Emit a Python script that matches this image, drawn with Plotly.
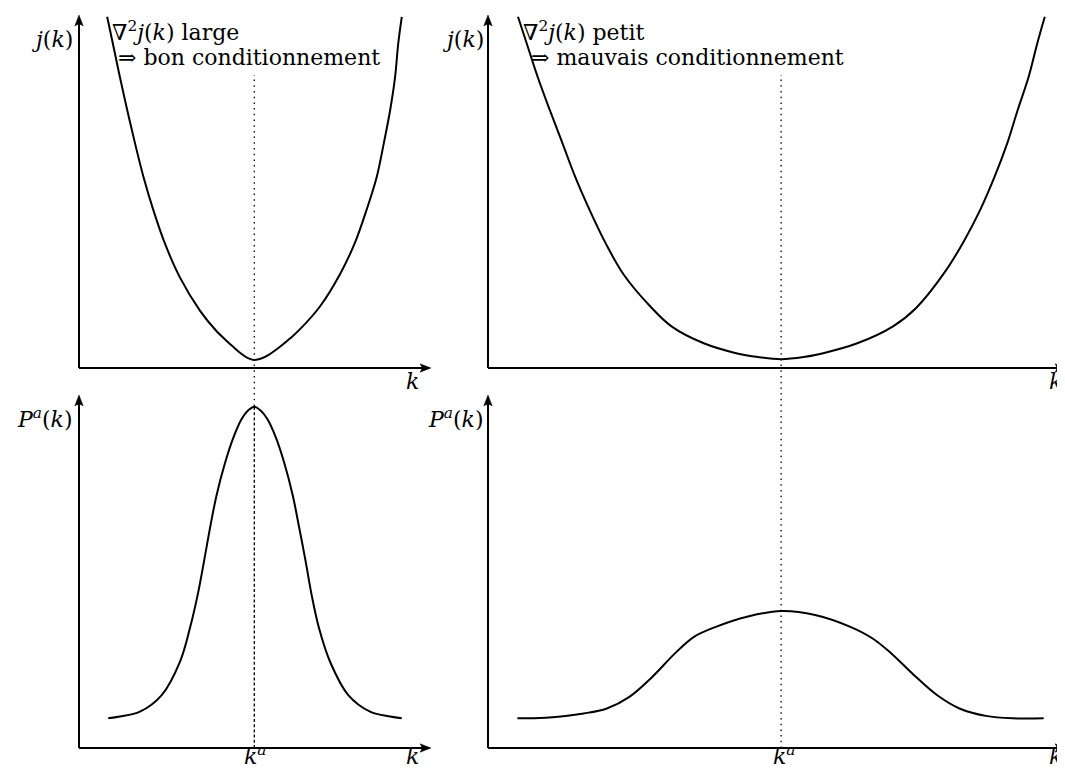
import plotly.graph_objects as go

# ---------------- data ----------------
# top-left: j(k), large curvature
k_tl = [0.80, 0.96, 1.16, 1.37, 1.59, 1.83, 2.11, 2.44, 2.87, 3.44, 3.91, 4.15, 4.38, 4.60, 4.80, 4.97,
        5.16, 5.40, 5.71, 6.00, 6.28, 6.85, 7.41, 7.84, 8.17, 8.46, 8.66, 8.84, 8.98, 9.07, 9.17]
j_tl = [9.95, 9.20, 8.25, 7.31, 6.37, 5.42, 4.48, 3.53, 2.56, 1.62, 1.04, 0.81, 0.60, 0.41, 0.28, 0.23,
        0.26, 0.38, 0.60, 0.84, 1.10, 1.75, 2.65, 3.55, 4.48, 5.42, 6.37, 7.31, 8.25, 9.20, 9.95]

# top-right: j(k), small curvature
k_tr = [0.52, 0.67, 0.86, 1.07, 1.29, 1.51, 1.76, 2.04, 2.35, 2.81, 3.18, 3.74, 4.30, 4.68, 5.08,
        5.47, 5.81, 6.40, 7.02, 7.42, 7.91, 8.25, 8.53, 8.78, 9.00, 9.18, 9.37, 9.52, 9.65]
j_tr = [9.95, 9.20, 8.25, 7.31, 6.37, 5.42, 4.48, 3.53, 2.65, 1.75, 1.18, 0.70, 0.42, 0.31, 0.25,
        0.31, 0.42, 0.70, 1.18, 1.70, 2.70, 3.60, 4.48, 5.42, 6.37, 7.31, 8.25, 9.20, 9.95]

# bottom-left: P^a(k), narrow
k_bl = [0.83, 1.16, 1.73, 2.35, 2.87, 3.15, 3.37, 3.55, 3.72, 3.91, 4.15, 4.38, 4.62, 4.80, 4.98,
        5.16, 5.35, 5.60, 5.83, 6.07, 6.26, 6.44, 6.61, 6.82, 7.13, 7.65, 8.27, 8.84, 9.17]
p_bl = [0.84, 0.89, 1.03, 1.50, 2.45, 3.39, 4.33, 5.28, 6.22, 7.17, 8.08, 8.78, 9.32, 9.56, 9.67,
        9.56, 9.32, 8.78, 8.08, 7.17, 6.22, 5.28, 4.33, 3.39, 2.45, 1.50, 1.03, 0.89, 0.84]

# bottom-right: P^a(k), wide
k_br = [0.51, 1.00, 1.66, 2.06, 2.45, 2.85, 3.24, 3.57, 3.96, 4.49, 5.08, 5.67, 6.27, 6.66,
        6.99, 7.38, 7.78, 8.17, 8.63, 9.09, 9.63]
p_br = [0.84, 0.86, 0.98, 1.12, 1.45, 2.02, 2.68, 3.15, 3.44, 3.72, 3.88, 3.77, 3.44, 3.11,
        2.68, 2.07, 1.50, 1.12, 0.91, 0.84, 0.84]

# position of the optimum k^a in the left and right columns
k_a = [4.98, 5.08]

# ---------------- layout helpers ----------------
W, H = 1065, 769
OFF = 8  # the page body adds an 8px margin; positions below are in window pixels
FONT = "DejaVu Serif"
FS = 22


def px(x):
    return min(max((x - OFF) / W, 0), 1)


def py(y):
    return min(max(1 - (y - OFF) / H, 0), 1)


def P(x, y):
    return f"{(x - OFF) / W:.5f},{1 - (y - OFF) / H:.5f}"


fig = go.Figure()

xl = [px(79), px(431)]
xr = [px(488), px(1065)]
yt = [py(368), py(15)]
yb = [py(748), py(395)]

panels = [
    ("x", "y", k_tl, j_tl),
    ("x2", "y2", k_tr, j_tr),
    ("x3", "y3", k_bl, p_bl),
    ("x4", "y4", k_br, p_br),
]
for xa, ya, kk, vv in panels:
    fig.add_trace(go.Scatter(x=kk, y=vv, xaxis=xa, yaxis=ya, mode="lines",
                             line=dict(color="black", width=2, shape="spline", smoothing=1.0),
                             hoverinfo="skip", showlegend=False, cliponaxis=False))

ax_common = dict(visible=False, showgrid=False, zeroline=False, range=[0, 10], fixedrange=True)
fig.update_layout(
    width=W, height=H, margin=dict(l=0, r=0, t=0, b=0),
    font=dict(family=FONT, size=FS, color="black"),
    paper_bgcolor="white", plot_bgcolor="white", showlegend=False,
    xaxis=dict(domain=xl, anchor="y", **ax_common),
    yaxis=dict(domain=yt, anchor="x", **ax_common),
    xaxis2=dict(domain=xr, anchor="y2", **ax_common),
    yaxis2=dict(domain=yt, anchor="x2", **ax_common),
    xaxis3=dict(domain=xl, anchor="y3", **ax_common),
    yaxis3=dict(domain=yb, anchor="x3", **ax_common),
    xaxis4=dict(domain=xr, anchor="y4", **ax_common),
    yaxis4=dict(domain=yb, anchor="x4", **ax_common),
)

shapes = []
BLACK = "black"


def arrow_up(x0, y0):
    return dict(type="path", xref="paper", yref="paper",
                path=f"M{P(x0, y0)} L{P(x0 - 4.2, y0 + 11)} Q{P(x0, y0 + 7.5)} {P(x0 + 4.2, y0 + 11)} Z",
                fillcolor=BLACK, line=dict(color=BLACK, width=0.5))


def arrow_right(x0, y0):
    return dict(type="path", xref="paper", yref="paper",
                path=f"M{P(x0, y0)} L{P(x0 - 11, y0 - 4.2)} Q{P(x0 - 7.5, y0)} {P(x0 - 11, y0 + 4.2)} Z",
                fillcolor=BLACK, line=dict(color=BLACK, width=0.5))


frames = [(79, 368, 431, 15), (488, 368, 1066, 15), (79, 748, 431, 395), (488, 748, 1066, 395)]
for ox, oy, tx, ty in frames:
    shapes.append(dict(type="line", xref="paper", yref="paper", x0=px(ox), x1=px(tx - 5),
                       y0=py(oy), y1=py(oy), line=dict(color=BLACK, width=2)))
    shapes.append(dict(type="line", xref="paper", yref="paper", x0=px(ox), x1=px(ox),
                       y0=py(oy), y1=py(ty + 5), line=dict(color=BLACK, width=2)))
    shapes.append(arrow_right(tx, oy))
    shapes.append(arrow_up(ox, ty))

shapes += [
    dict(type="line", xref="x", yref="paper", x0=k_a[0], x1=k_a[0], y0=py(406), y1=py(75),
         line=dict(color=BLACK, width=1.3, dash="1.5px,4.2px")),
    dict(type="line", xref="x", yref="paper", x0=k_a[0], x1=k_a[0], y0=py(748), y1=py(406),
         line=dict(color=BLACK, width=1.3, dash="3px,2.2px")),
    dict(type="line", xref="x2", yref="paper", x0=k_a[1], x1=k_a[1], y0=py(748), y1=py(75),
         line=dict(color=BLACK, width=1.3, dash="1.5px,4.2px")),
]

annotations = []


def label(text, x, y, xanchor="center", yanchor="middle", size=FS):
    annotations.append(dict(text=text, x=(x - OFF) / W, y=1 - (y - OFF) / H, xref="paper", yref="paper",
                            xanchor=xanchor, yanchor=yanchor, showarrow=False,
                            font=dict(family=FONT, size=size, color="black")))


label("<i>j</i>(<i>k</i>)", 75, 40, xanchor="right")
label("<i>j</i>(<i>k</i>)", 486, 40, xanchor="right")
label("<i>P<sup>a</sup></i>(<i>k</i>)", 75, 418, xanchor="right")
label("<i>P<sup>a</sup></i>(<i>k</i>)", 486, 418, xanchor="right")

label("<i>k</i>", 412, 382)
label("<i>k</i>", 412, 756)
label("<i>k</i>", 1055, 382)
label("<i>k</i>", 1055, 756)
label("<i>k<sup>a</sup></i>", 255, 755)
label("<i>k<sup>a</sup></i>", 784, 755)

label("∇<sup>2</sup><i>j</i>(<i>k</i>) large", 110, 31, xanchor="left")
label("⇒ bon conditionnement", 116, 57, xanchor="left")
label("∇<sup>2</sup><i>j</i>(<i>k</i>) petit", 521, 31, xanchor="left")
label("⇒ mauvais conditionnement", 529, 57, xanchor="left")

fig.update_layout(annotations=annotations, shapes=shapes)

fig.write_html("out.html")
